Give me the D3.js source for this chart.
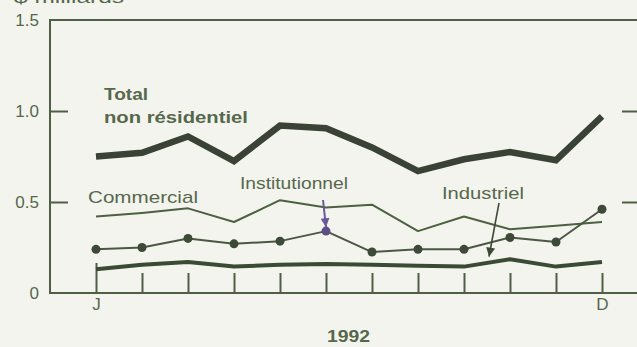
<!DOCTYPE html>
<html>
<head>
<meta charset="utf-8">
<script src="https://cdn.jsdelivr.net/npm/d3@7"></script>
<style>
  html, body { margin: 0; padding: 0; background: #f4f4ef; }
  svg { display: block; font-family: "Liberation Sans", Arial, Helvetica, sans-serif; }
</style>
</head>
<body>
<svg id="chart" width="637" height="347"></svg>
<script>
// Monthly values, 1992, in billions of dollars
const months = ["J", "F", "M", "A", "M", "J", "J", "A", "S", "O", "N", "D"];
const totalNonResidential = [0.75, 0.77, 0.86, 0.725, 0.92, 0.905, 0.80, 0.67, 0.735, 0.775, 0.73, 0.97];
const commercial = [0.42, 0.44, 0.465, 0.39, 0.51, 0.47, 0.485, 0.34, 0.42, 0.35, 0.37, 0.39];
const institutional = [0.24, 0.25, 0.30, 0.27, 0.285, 0.34, 0.225, 0.24, 0.24, 0.305, 0.28, 0.46];
const industrial = [0.13, 0.155, 0.17, 0.145, 0.155, 0.16, 0.155, 0.15, 0.145, 0.185, 0.145, 0.17];
const yTicks = [0, 0.5, 1.0, 1.5];
const xTickLabels = { 0: "J", 11: "D" };

const svg = d3.select("#chart");
const W = 637, H = 347;
const plotLeft = 50, plotTop = 20, plotBottom = 293;

const x = d3.scaleLinear().domain([0, months.length - 1]).range([96, 602]);
const y = d3.scaleLinear().domain([0, 1.5]).range([plotBottom, plotTop]);

const frameColor = "#4e5f44";
const textColor = "#56684b";

// Frame: left, top and bottom rules
svg.append("line").attr("x1", plotLeft).attr("x2", plotLeft).attr("y1", y(1.5)).attr("y2", y(0))
  .attr("stroke", frameColor).attr("stroke-width", 2);
svg.append("line").attr("x1", plotLeft - 1).attr("x2", W).attr("y1", y(1.5)).attr("y2", y(1.5))
  .attr("stroke", frameColor).attr("stroke-width", 2);
svg.append("line").attr("x1", plotLeft - 1).attr("x2", W).attr("y1", y(0)).attr("y2", y(0))
  .attr("stroke", frameColor).attr("stroke-width", 2);

// Left axis: inward ticks, labels outside
const yAxis = svg.append("g").attr("transform", `translate(${plotLeft},0)`)
  .call(d3.axisLeft(y).tickValues(yTicks).tickSize(-18).tickPadding(12)
    .tickFormat(d => d === 0 ? "0" : d3.format(".1f")(d)));
yAxis.select(".domain").remove();
yAxis.selectAll(".tick line")
  .attr("stroke", frameColor).attr("stroke-width", 2)
  .attr("display", d => (d === 0 || d === 1.5) ? "none" : null);
yAxis.selectAll(".tick text")
  .attr("fill", textColor).attr("font-size", 17).attr("x", -11);

// Right-side ticks, outside the plot
const yAxisR = svg.append("g").attr("transform", `translate(622,0)`)
  .call(d3.axisRight(y).tickValues([0.5, 1.0]).tickSize(15).tickFormat(""));
yAxisR.select(".domain").remove();
yAxisR.selectAll(".tick line").attr("stroke", frameColor).attr("stroke-width", 2);

// Month ticks rising from the baseline
const xAxis = svg.append("g").attr("transform", `translate(0,${plotBottom})`)
  .call(d3.axisBottom(x).tickValues(d3.range(months.length)).tickSize(-20).tickPadding(14)
    .tickFormat(i => xTickLabels[i] || ""));
xAxis.select(".domain").remove();
xAxis.selectAll(".tick line").attr("stroke", frameColor).attr("stroke-width", 2)
  .attr("y2", i => i === 0 ? -30 : -20);
xAxis.selectAll(".tick text").attr("fill", textColor).attr("font-size", 17).attr("dy", "0.2em");

const line = d3.line().x((d, i) => x(i)).y(d => y(d));

// Series
svg.append("path").datum(commercial).attr("d", line)
  .attr("fill", "none").attr("stroke", "#4c6141").attr("stroke-width", 2).attr("stroke-linejoin", "round");

svg.append("path").datum(institutional).attr("d", line)
  .attr("fill", "none").attr("stroke", "#4a5843").attr("stroke-width", 2).attr("stroke-linejoin", "round");
svg.append("g").selectAll("circle").data(institutional).join("circle")
  .attr("cx", (d, i) => x(i)).attr("cy", d => y(d)).attr("r", 4.5)
  .attr("fill", (d, i) => i === 5 ? "#5d4f86" : "#3d4a37");

svg.append("path").datum(industrial).attr("d", line)
  .attr("fill", "none").attr("stroke", "#3b4a35").attr("stroke-width", 4).attr("stroke-linejoin", "round");

svg.append("path").datum(totalNonResidential).attr("d", line)
  .attr("fill", "none").attr("stroke", "#3a4135").attr("stroke-width", 6.5).attr("stroke-linejoin", "miter");

// Pointer arrows for labels
const defs = svg.append("defs");
defs.append("marker").attr("id", "arrowInst").attr("viewBox", "0 0 10 10")
  .attr("refX", 10).attr("refY", 5).attr("markerWidth", 12).attr("markerHeight", 9)
  .attr("markerUnits", "userSpaceOnUse").attr("orient", "auto")
  .append("path").attr("d", "M0,0 L10,5 L0,10 Z").attr("fill", "#6a5a96");
defs.append("marker").attr("id", "arrowInd").attr("viewBox", "0 0 10 10")
  .attr("refX", 10).attr("refY", 5).attr("markerWidth", 14).attr("markerHeight", 9)
  .attr("markerUnits", "userSpaceOnUse").attr("orient", "auto")
  .append("path").attr("d", "M0,0 L10,5 L0,10 Z").attr("fill", "#3d4a37");

svg.append("line").attr("x1", 323).attr("y1", 200).attr("x2", x(5)).attr("y2", y(institutional[5]) - 4)
  .attr("stroke", "#6a5a96").attr("stroke-width", 2).attr("marker-end", "url(#arrowInst)");
svg.append("line").attr("x1", 499).attr("y1", 203).attr("x2", 489).attr("y2", y(industrial[8]) - 10)
  .attr("stroke", "#3d4a37").attr("stroke-width", 1.6).attr("marker-end", "url(#arrowInd)");

// Labels
function label(txt, xp, yp, len, opts = {}) {
  const t = svg.append("text").attr("x", xp).attr("y", yp).text(txt)
    .attr("fill", textColor).attr("font-size", opts.size || 17)
    .attr("font-weight", opts.bold ? "bold" : "normal");
  if (len) t.attr("textLength", len).attr("lengthAdjust", "spacingAndGlyphs");
  return t;
}
label("$ milliards", 14, 3, 110);
label("Total", 104, 100, 44, { bold: true, size: 17 });
label("non résidentiel", 104, 123, 144, { bold: true, size: 17 });
label("Commercial", 88, 203, 110);
label("Institutionnel", 240, 189, 108);
label("Industriel", 442, 199, 82);
label("1992", 327, 342, 43, { bold: true, size: 17 });
</script>
</body>
</html>
